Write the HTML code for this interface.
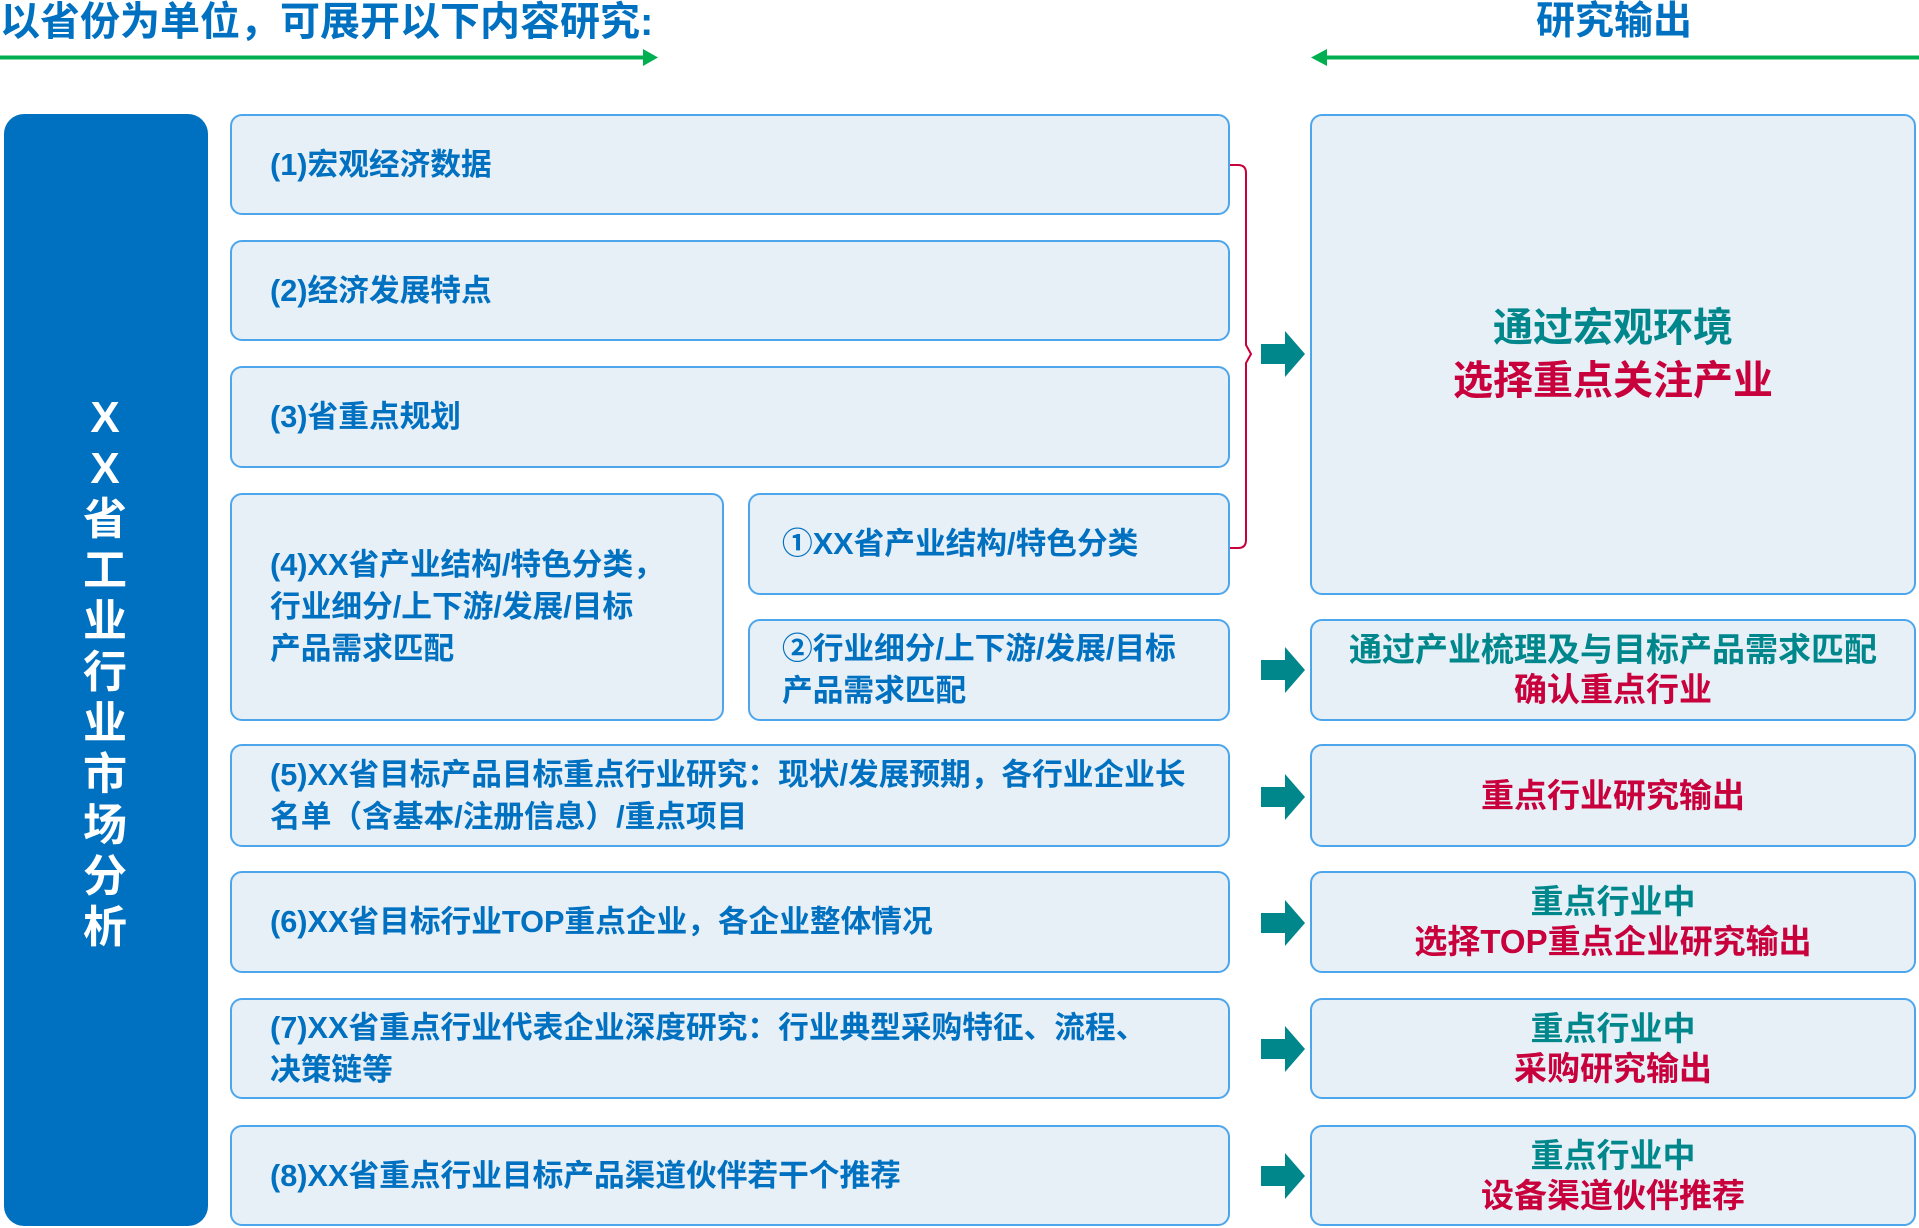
<!DOCTYPE html>
<html><head><meta charset="utf-8"><style>
*{margin:0;padding:0;box-sizing:border-box}
body{width:1919px;height:1228px;background:#fff;position:relative;overflow:hidden;font-family:"Liberation Sans","Noto Sans CJK SC",sans-serif;font-weight:bold}
.a{position:absolute}
.box{position:absolute;background:#E7EFF7;border:2px solid #4DA6EC;border-radius:12px;color:#0070C0;font-size:30.7px;line-height:42px;display:flex;align-items:center;padding-left:38px;white-space:nowrap}
.rb{position:absolute;background:#E7EFF7;border:2px solid #4DA6EC;border-radius:12px;display:flex;flex-direction:column;justify-content:center;align-items:center;text-align:center;font-size:33px;line-height:40px;white-space:nowrap}
.t{color:#00878C}.r{color:#C8003C}
</style></head><body>
<div class="a" style="left:0;top:-2px;font-size:40px;color:#0070C0;line-height:48px">以省份为单位，可展开以下内容研究:</div>
<svg class="a" style="left:0;top:0" width="1919" height="80">
<line x1="0" y1="57.5" x2="645" y2="57.5" stroke="#00B050" stroke-width="4"/>
<polygon points="643,49 658,57.5 643,66" fill="#00B050"/>
<line x1="1325" y1="57.5" x2="1919" y2="57.5" stroke="#00B050" stroke-width="4"/>
<polygon points="1327,49 1311,57.5 1327,66" fill="#00B050"/>
</svg>
<div class="a" style="left:1536px;top:-2px;font-size:39px;color:#0070C0;line-height:48px">研究输出</div>

<div class="a" style="left:4px;top:114px;width:204px;height:1112px;background:#0070C0;border-radius:20px"></div>
<div class="a" style="left:72px;top:392px;width:66px;color:#fff;font-size:44px;line-height:51px;text-align:center">X<br>X<br>省<br>工<br>业<br>行<br>业<br>市<br>场<br>分<br>析</div>

<div class="box" style="left:230px;top:114px;width:1000px;height:101px">(1)宏观经济数据</div>
<div class="box" style="left:230px;top:240px;width:1000px;height:101px">(2)经济发展特点</div>
<div class="box" style="left:230px;top:366px;width:1000px;height:102px">(3)省重点规划</div>
<div class="box" style="left:230px;top:493px;width:494px;height:228px">(4)XX省产业结构/特色分类，<br>行业细分/上下游/发展/目标<br>产品需求匹配</div>
<div class="box" style="left:748px;top:493px;width:482px;height:102px;padding-left:32px">①XX省产业结构/特色分类</div>
<div class="box" style="left:748px;top:619px;width:482px;height:102px;padding-left:32px">②行业细分/上下游/发展/目标<br>产品需求匹配</div>
<div class="box" style="left:230px;top:744px;width:1000px;height:103px">(5)XX省目标产品目标重点行业研究：现状/发展预期，各行业企业长<br>名单（含基本/注册信息）/重点项目</div>
<div class="box" style="left:230px;top:871px;width:1000px;height:102px">(6)XX省目标行业TOP重点企业，各企业整体情况</div>
<div class="box" style="left:230px;top:998px;width:1000px;height:101px">(7)XX省重点行业代表企业深度研究：行业典型采购特征、流程、<br>决策链等</div>
<div class="box" style="left:230px;top:1125px;width:1000px;height:101px">(8)XX省重点行业目标产品渠道伙伴若干个推荐</div>

<svg class="a" style="left:1228px;top:160px" width="30" height="395">
<path d="M2,5 H10 Q18,5 18,13 V185 L23,194 L18,203 V380 Q18,388 10,388 H2" fill="none" stroke="#C8003C" stroke-width="2"/>
</svg>

<svg class="a" style="left:0;top:0" width="1919" height="1228">
<g fill="#00878C">
<polygon points="1261,344 1285,344 1285,331 1305,354 1285,377 1285,364 1261,364"/>
<polygon points="1261,660 1285,660 1285,647 1305,670 1285,693 1285,680 1261,680"/>
<polygon points="1261,787 1285,787 1285,774 1305,797 1285,820 1285,807 1261,807"/>
<polygon points="1261,913 1285,913 1285,900 1305,923 1285,946 1285,933 1261,933"/>
<polygon points="1261,1039 1285,1039 1285,1026 1305,1049 1285,1072 1285,1059 1261,1059"/>
<polygon points="1261,1166 1285,1166 1285,1153 1305,1176 1285,1199 1285,1186 1261,1186"/>
</g></svg>

<div class="rb" style="left:1310px;top:114px;width:606px;height:481px;font-size:40px;line-height:53px"><div class="t">通过宏观环境</div><div class="r">选择重点关注产业</div></div>
<div class="rb" style="left:1310px;top:619px;width:606px;height:102px"><div class="t">通过产业梳理及与目标产品需求匹配</div><div class="r">确认重点行业</div></div>
<div class="rb" style="left:1310px;top:744px;width:606px;height:103px"><div class="r">重点行业研究输出</div></div>
<div class="rb" style="left:1310px;top:871px;width:606px;height:102px"><div class="t">重点行业中</div><div class="r">选择TOP重点企业研究输出</div></div>
<div class="rb" style="left:1310px;top:998px;width:606px;height:101px"><div class="t">重点行业中</div><div class="r">采购研究输出</div></div>
<div class="rb" style="left:1310px;top:1125px;width:606px;height:101px"><div class="t">重点行业中</div><div class="r">设备渠道伙伴推荐</div></div>
</body></html>
